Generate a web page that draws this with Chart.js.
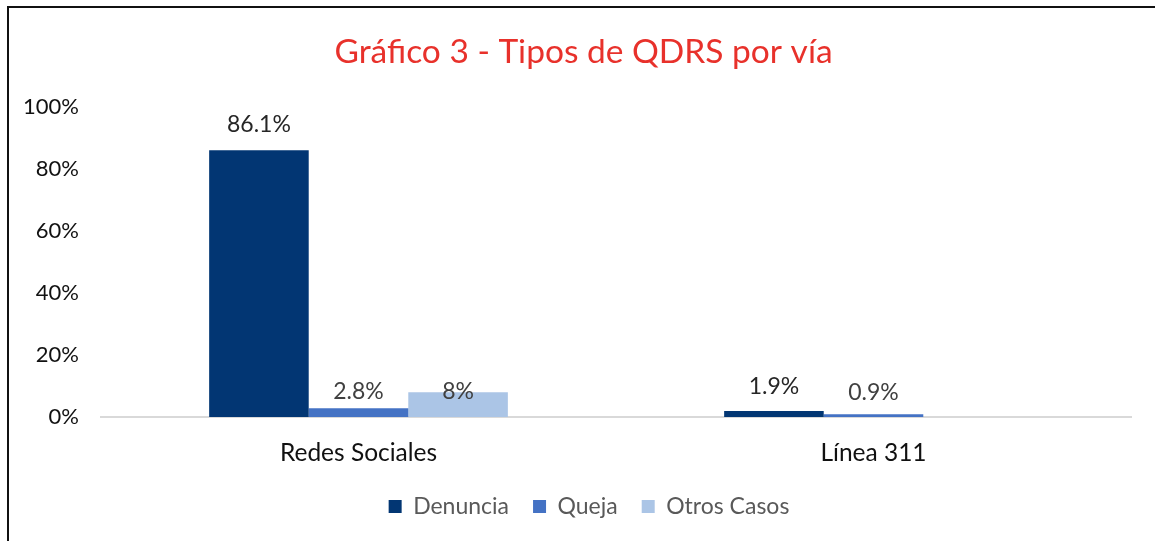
<!DOCTYPE html>
<html>
<head>
<meta charset="utf-8">
<script src="https://cdn.jsdelivr.net/npm/chart.js@4/dist/chart.umd.min.js"></script>
<style>
  html, body { margin: 0; padding: 0; background: #fff; }
  #frame {
    position: absolute; left: 7px; top: 6px;
    width: 1148px; height: 535px;
    border-top: 2px solid #111; border-left: 2px solid #111;
  }
  #chart { display: block; }
</style>
</head>
<body>
<div id="frame"><canvas id="chart" width="1146" height="533"></canvas></div>
<script>
const categories = ['Redes Sociales', 'Línea 311'];
const denuncia = [86.1, 1.9];
const queja = [2.8, 0.9];
const otrosCasos = [8, null];
const valueLabels = [['86.1%', '1.9%'], ['2.8%', '0.9%'], ['8%', '']];

const FONT = 'Lato, "Open Sans", sans-serif';

// draws value labels above bars (no datalabels plugin available)
const barLabels = {
  id: 'barLabels',
  afterDatasetsDraw(chart, args, opts) {
    const ctx = chart.ctx;
    ctx.save();
    ctx.font = '23px ' + FONT;
    ctx.textAlign = 'center';
    ctx.textBaseline = 'middle';
    chart.data.datasets.forEach((ds, di) => {
      chart.getDatasetMeta(di).data.forEach((bar, i) => {
        const txt = valueLabels[di][i];
        if (!txt) return;
        const nudge = opts.nudge[di][i];
        ctx.fillStyle = opts.colors[di][i];
        ctx.fillText(txt, bar.x, bar.y - nudge);
      });
    });
    ctx.restore();
  }
};

// title and legend sit a bit right of the canvas centre in the original
const shiftBoxes = {
  id: 'shiftBoxes',
  afterLayout(chart) {
    const t = chart.titleBlock, l = chart.legend;
    if (t) { t.left += 13.5; t.right += 13.5; }
    if (l) { l.left += 19; l.right += 19; }
  }
};

new Chart(document.getElementById('chart'), {
  type: 'bar',
  data: {
    labels: categories,
    datasets: [
      { label: 'Denuncia', data: denuncia, backgroundColor: '#023673' },
      { label: 'Queja', data: queja, backgroundColor: '#4472C4' },
      { label: 'Otros Casos', data: otrosCasos, backgroundColor: '#ABC5E6' }
    ]
  },
  options: {
    responsive: false,
    animation: false,
    layout: { padding: { left: 0, right: 24, top: 0, bottom: 13 } },
    datasets: { bar: { categoryPercentage: 0.58, barPercentage: 1 } },
    plugins: {
      title: {
        display: true,
        text: 'Gráfico 3 - Tipos de QDRS por vía',
        color: '#E8312B',
        font: { family: FONT, size: 33.5, weight: 'normal' },
        padding: { top: 24, bottom: 35 }
      },
      legend: {
        position: 'bottom',
        labels: {
          color: '#595959',
          font: { family: FONT, size: 23 },
          boxWidth: 13, boxHeight: 13,
          padding: 24
        }
      },
      tooltip: { enabled: false },
      barLabels: {
        nudge: [[26, 25], [17, 22], [1, 0]],
        colors: [['#262626', '#262626'], ['#404040', '#404040'], ['#404040', '#404040']]
      }
    },
    scales: {
      x: {
        grid: { display: false, drawTicks: false },
        border: { color: '#D9D9D9', width: 2 },
        ticks: { color: '#111', font: { family: FONT, size: 24.5 }, padding: 21 },
        afterFit(scale) { scale.height = 54; }
      },
      y: {
        min: 0, max: 100,
        grid: { display: false, drawTicks: false },
        border: { display: false },
        ticks: {
          stepSize: 20,
          color: '#111',
          font: { family: FONT, size: 22 },
          padding: 22,
          callback: v => v + '%'
        },
        afterFit(scale) { scale.width = 92; }
      }
    }
  },
  plugins: [barLabels, shiftBoxes]
});
</script>
</body>
</html>
